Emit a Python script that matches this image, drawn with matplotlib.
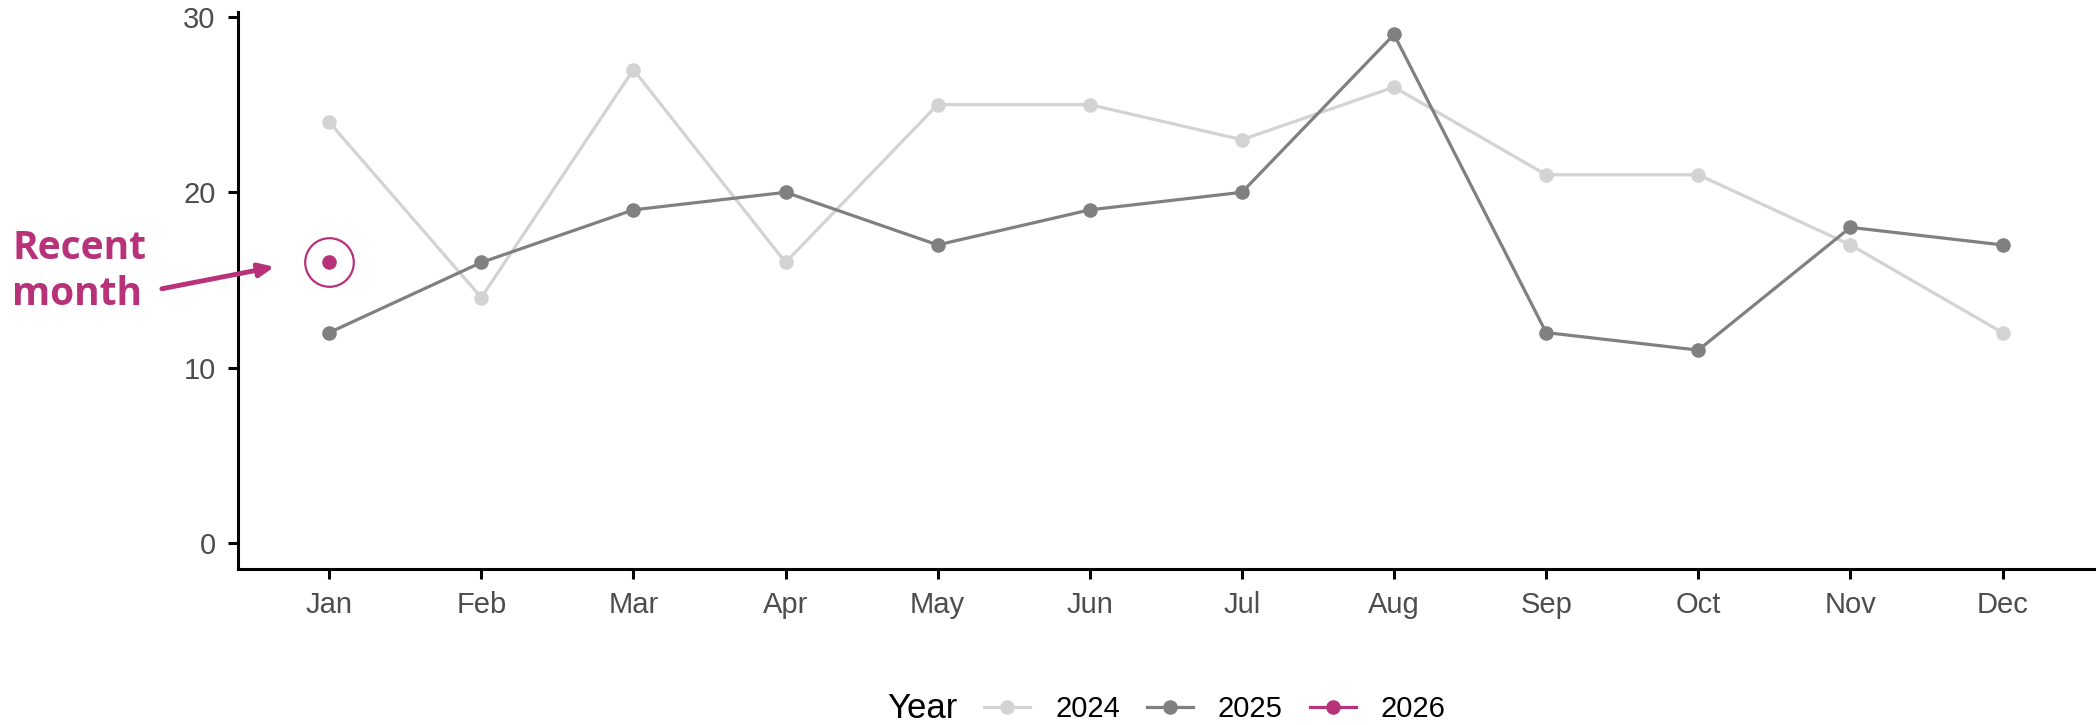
import matplotlib
matplotlib.use("Agg")
import matplotlib.pyplot as plt
from matplotlib.lines import Line2D
from matplotlib.offsetbox import HPacker

months = ["Jan", "Feb", "Mar", "Apr", "May", "Jun", "Jul", "Aug", "Sep", "Oct", "Nov", "Dec"]
values_2024 = [24, 14, 27, 16, 25, 25, 23, 26, 21, 21, 17, 12]
values_2025 = [12, 16, 19, 20, 17, 19, 20, 29, 12, 11, 18, 17]
values_2026 = [16]
years = ["2024", "2025", "2026"]
yticks = [0, 10, 20, 30]

colors = {"2024": "#D3D3D3", "2025": "#808080", "2026": "#B8327A"}
accent = colors["2026"]

plt.rcParams["font.family"] = ["Liberation Sans", "DejaVu Sans"]

fig = plt.figure(figsize=(20.98, 7.25), dpi=100)
ax = fig.add_axes([0.1134, 0.2152, 0.8846, 0.7682])

x = list(range(len(months)))
series = {"2024": values_2024, "2025": values_2025, "2026": values_2026}
for yr in years:
    vals = series[yr]
    ax.plot(x[:len(vals)], vals, color=colors[yr], lw=2.3, marker="o", ms=10.5,
            markeredgewidth=0, zorder=3 if yr != "2024" else 2)

# ring around the latest point
ax.plot([0], values_2026, marker="o", ms=35, mfc="none", mec=accent, mew=1.6, zorder=4)

ax.annotate("", xy=(-0.36, 15.75), xytext=(-1.1, 14.5), xycoords="data",
            annotation_clip=False,
            arrowprops=dict(arrowstyle="-|>,head_length=0.9,head_width=0.4",
                            color=accent, lw=3.5, shrinkA=0, shrinkB=0))
fig.text(12 / 2098, 1 - 229 / 725, "Recent\nmonth", ha="left", va="top",
         fontsize=28, fontweight="bold", color=accent, family="Open Sans", linespacing=1.25)

ax.set_xlim(-0.6, 11.6)
ax.set_ylim(-1.48, 30.28)
ax.set_xticks(x)
ax.set_xticklabels(months)
ax.set_yticks(yticks)
ax.tick_params(axis="both", labelsize=21, colors="#4D4D4D", length=7, width=2.2, pad=9)
ax.tick_params(axis="both", color="black")
for side in ["top", "right"]:
    ax.spines[side].set_visible(False)
for side in ["left", "bottom"]:
    ax.spines[side].set_linewidth(2.2)

handles = [Line2D([0], [0], color=colors[yr], lw=2.3, marker="o", ms=10.5, markeredgewidth=0)
           for yr in years]
leg = fig.legend(handles, years, loc="center", bbox_to_anchor=(0.556, 1 - 709 / 725),
                 ncol=3, frameon=False, fontsize=21, handlelength=1.58, handletextpad=0.86,
                 columnspacing=0.92, title="Year")
# put title on the same row as the entries
title_box = leg._legend_title_box
entries = leg._legend_handle_box
leg._legend_box._children = [HPacker(pad=0, sep=19, children=[title_box, entries], align="center")]
leg.get_title().set_fontsize(25)

fig.savefig("out.png", dpi=100)
